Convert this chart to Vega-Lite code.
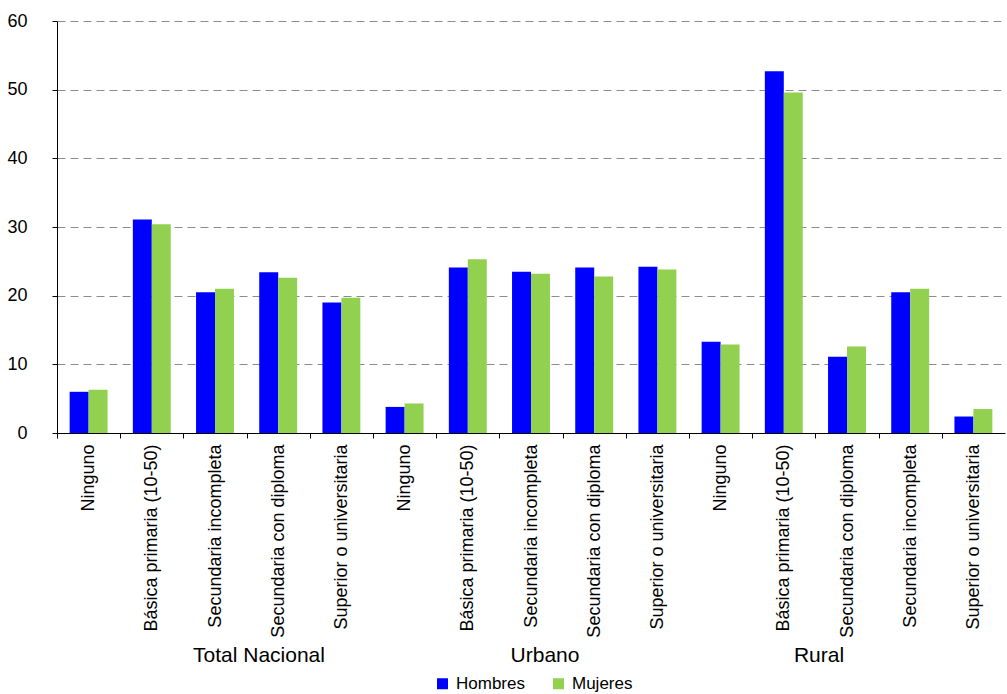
{
  "$schema": "https://vega.github.io/schema/vega-lite/v6.json",
  "padding": {"left": 6, "top": 12, "right": 0, "bottom": 0},
  "background": "white",
  "width": 948,
  "height": 412,
  "data": {"values": [
    {"key": "T1|Ninguno", "idx": 1, "sexo": "Hombres", "valor": 6.0},
    {"key": "T1|Ninguno", "idx": 1, "sexo": "Mujeres", "valor": 6.3},
    {"key": "T2|Básica primaria (10-50)", "idx": 2, "sexo": "Hombres", "valor": 31.1},
    {"key": "T2|Básica primaria (10-50)", "idx": 2, "sexo": "Mujeres", "valor": 30.4},
    {"key": "T3|Secundaria incompleta", "idx": 3, "sexo": "Hombres", "valor": 20.5},
    {"key": "T3|Secundaria incompleta", "idx": 3, "sexo": "Mujeres", "valor": 21.0},
    {"key": "T4|Secundaria con diploma", "idx": 4, "sexo": "Hombres", "valor": 23.4},
    {"key": "T4|Secundaria con diploma", "idx": 4, "sexo": "Mujeres", "valor": 22.6},
    {"key": "T5|Superior o universitaria", "idx": 5, "sexo": "Hombres", "valor": 19.0},
    {"key": "T5|Superior o universitaria", "idx": 5, "sexo": "Mujeres", "valor": 19.7},
    {"key": "U1|Ninguno", "idx": 6, "sexo": "Hombres", "valor": 3.8},
    {"key": "U1|Ninguno", "idx": 6, "sexo": "Mujeres", "valor": 4.3},
    {"key": "U2|Básica primaria (10-50)", "idx": 7, "sexo": "Hombres", "valor": 24.1},
    {"key": "U2|Básica primaria (10-50)", "idx": 7, "sexo": "Mujeres", "valor": 25.3},
    {"key": "U3|Secundaria incompleta", "idx": 8, "sexo": "Hombres", "valor": 23.5},
    {"key": "U3|Secundaria incompleta", "idx": 8, "sexo": "Mujeres", "valor": 23.2},
    {"key": "U4|Secundaria con diploma", "idx": 9, "sexo": "Hombres", "valor": 24.1},
    {"key": "U4|Secundaria con diploma", "idx": 9, "sexo": "Mujeres", "valor": 22.8},
    {"key": "U5|Superior o universitaria", "idx": 10, "sexo": "Hombres", "valor": 24.2},
    {"key": "U5|Superior o universitaria", "idx": 10, "sexo": "Mujeres", "valor": 23.8},
    {"key": "R1|Ninguno", "idx": 11, "sexo": "Hombres", "valor": 13.3},
    {"key": "R1|Ninguno", "idx": 11, "sexo": "Mujeres", "valor": 12.9},
    {"key": "R2|Básica primaria (10-50)", "idx": 12, "sexo": "Hombres", "valor": 52.7},
    {"key": "R2|Básica primaria (10-50)", "idx": 12, "sexo": "Mujeres", "valor": 49.6},
    {"key": "R3|Secundaria con diploma", "idx": 13, "sexo": "Hombres", "valor": 11.1},
    {"key": "R3|Secundaria con diploma", "idx": 13, "sexo": "Mujeres", "valor": 12.6},
    {"key": "R4|Secundaria incompleta", "idx": 14, "sexo": "Hombres", "valor": 20.5},
    {"key": "R4|Secundaria incompleta", "idx": 14, "sexo": "Mujeres", "valor": 21.0},
    {"key": "R5|Superior o universitaria", "idx": 15, "sexo": "Hombres", "valor": 2.4},
    {"key": "R5|Superior o universitaria", "idx": 15, "sexo": "Mujeres", "valor": 3.5}
  ]},
  "layer": [
    {
      "mark": {"type": "bar"},
      "encoding": {
        "x": {
          "field": "key",
          "type": "nominal",
          "sort": {"field": "idx", "op": "min"},
          "scale": {"paddingInner": 0.4, "paddingOuter": 0.2},
          "axis": {
            "title": null,
            "labelExpr": "split(datum.value, '|')[1]",
            "labelAngle": -90,
            "labelFont": "Liberation Sans",
            "labelFontSize": 18,
            "labelColor": "#000000",
            "labelPadding": 6,
            "labelLimit": 400,
            "labelOffset": 31.6,
            "tickOffset": -31.6,
            "tickColor": "#000000",
            "tickSize": 5,
            "domainColor": "#000000",
            "grid": false
          }
        },
        "xOffset": {"field": "sexo", "type": "nominal", "sort": ["Hombres", "Mujeres"]},
        "y": {
          "field": "valor",
          "type": "quantitative",
          "scale": {"domain": [0, 60], "nice": false},
          "axis": {
            "title": null,
            "values": [0, 10, 20, 30, 40, 50, 60],
            "labelFont": "Liberation Sans",
            "labelFontSize": 18,
            "labelColor": "#000000",
            "labelPadding": 25,
            "tickColor": "#000000",
            "tickSize": 5,
            "domainColor": "#000000",
            "grid": true,
            "gridColor": "#8c8c8c",
            "gridDash": [8, 5],
            "gridWidth": 1
          }
        },
        "color": {
          "field": "sexo",
          "type": "nominal",
          "scale": {"domain": ["Hombres", "Mujeres"], "range": ["#0000FF", "#92D050"]},
          "legend": {
            "title": null,
            "orient": "none",
            "legendX": 377,
            "legendY": 654,
            "direction": "horizontal",
            "symbolType": "square",
            "symbolSize": 121,
            "symbolStrokeWidth": 0,
            "labelFont": "Liberation Sans",
            "labelFontSize": 17,
            "labelColor": "#000000",
            "labelOffset": 5,
            "columnPadding": 25
          }
        }
      }
    },
    {
      "mark": {"type": "rule", "opacity": 0},
      "encoding": {
        "x": {
          "field": "key",
          "type": "nominal",
          "sort": {"field": "idx", "op": "min"},
          "axis": {
            "title": null, "orient": "bottom", "offset": 211, "domain": false, "ticks": false, "grid": false,
            "labelAngle": 0, "labelPadding": 0, "labelOverlap": false, "labelLimit": 400,
            "labelFont": "Liberation Sans", "labelFontSize": 21, "labelColor": "#000000",
            "labelOffset": 44,
            "labelExpr": "datum.value == 'T3|Secundaria incompleta' ? 'Total Nacional' : ''"
          }
        }
      }
    },
    {
      "mark": {"type": "rule", "opacity": 0},
      "encoding": {
        "x": {
          "field": "key",
          "type": "nominal",
          "sort": {"field": "idx", "op": "min"},
          "axis": {
            "title": null, "orient": "bottom", "offset": 211, "domain": false, "ticks": false, "grid": false,
            "labelAngle": 0, "labelPadding": 0, "labelOverlap": false, "labelLimit": 400,
            "labelFont": "Liberation Sans", "labelFontSize": 21, "labelColor": "#000000",
            "labelOffset": 14,
            "labelExpr": "datum.value == 'U3|Secundaria incompleta' ? 'Urbano' : ''"
          }
        }
      }
    },
    {
      "mark": {"type": "rule", "opacity": 0},
      "encoding": {
        "x": {
          "field": "key",
          "type": "nominal",
          "sort": {"field": "idx", "op": "min"},
          "axis": {
            "title": null, "orient": "bottom", "offset": 211, "domain": false, "ticks": false, "grid": false,
            "labelAngle": 0, "labelPadding": 0, "labelOverlap": false, "labelLimit": 400,
            "labelFont": "Liberation Sans", "labelFontSize": 21, "labelColor": "#000000",
            "labelOffset": -28,
            "labelExpr": "datum.value == 'R3|Secundaria con diploma' ? 'Rural' : ''"
          }
        }
      }
    }
  ],
  "resolve": {"axis": {"x": "independent"}},
  "config": {
    "view": {"stroke": null}
  }
}
